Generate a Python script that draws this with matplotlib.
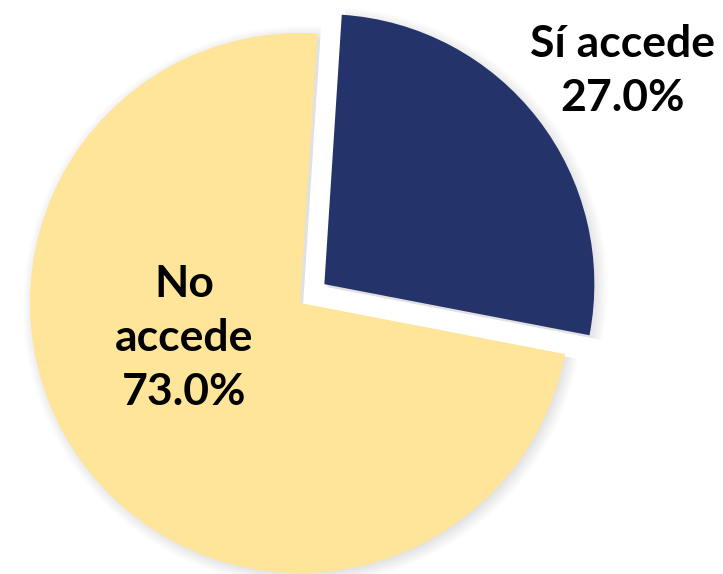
import matplotlib.pyplot as plt
from matplotlib.patches import Wedge
import numpy as np

# data
labels = ["Sí accede", "No accede"]
shares = [27.0, 73.0]
colors = ["#25336B", "#FFE599"]
pull = [0.114, 0.0]  # fraction of radius

fig = plt.figure(figsize=(7.23, 5.74), dpi=100)
ax = fig.add_axes([0, 0, 1, 1])

center = (300, 271)
radius = 270
start = 86.3
explode = [p * radius for p in pull]  # pie takes explode in data units

# soft shadow behind each slice
theta = start
for share, ex in zip(shares, explode):
    span = share / 100 * 360
    mid = np.deg2rad(theta - span / 2)
    cx = center[0] + ex * np.cos(mid) + 3
    cy = center[1] + ex * np.sin(mid) - 3
    for k in range(10):
        ax.add_patch(Wedge((cx, cy), radius + 10 - k * 1.5, theta - span, theta,
                           facecolor="black", alpha=0.012, lw=0, zorder=1))
    theta -= span

wedges, texts = ax.pie(shares, colors=colors, explode=explode, startangle=start,
                       counterclock=False, radius=radius, center=center,
                       wedgeprops=dict(linewidth=0), frame=True)
for w in wedges:
    w.set_zorder(2)
ax.set_xlim(0, 723)
ax.set_ylim(0, 574)
ax.set_aspect("equal")
ax.axis("off")

font = dict(family="Lato", fontweight="bold", fontsize=32, color="black",
            ha="center", va="center", linespacing=1.42, zorder=3)
ax.text(623, 574 - 71, f"{labels[0]}\n{shares[0]:.1f}%", **font)
ax.text(184, 574 - 338, "No\naccede\n" + f"{shares[1]:.1f}%", **font)

fig.savefig("out.png", dpi=100)
